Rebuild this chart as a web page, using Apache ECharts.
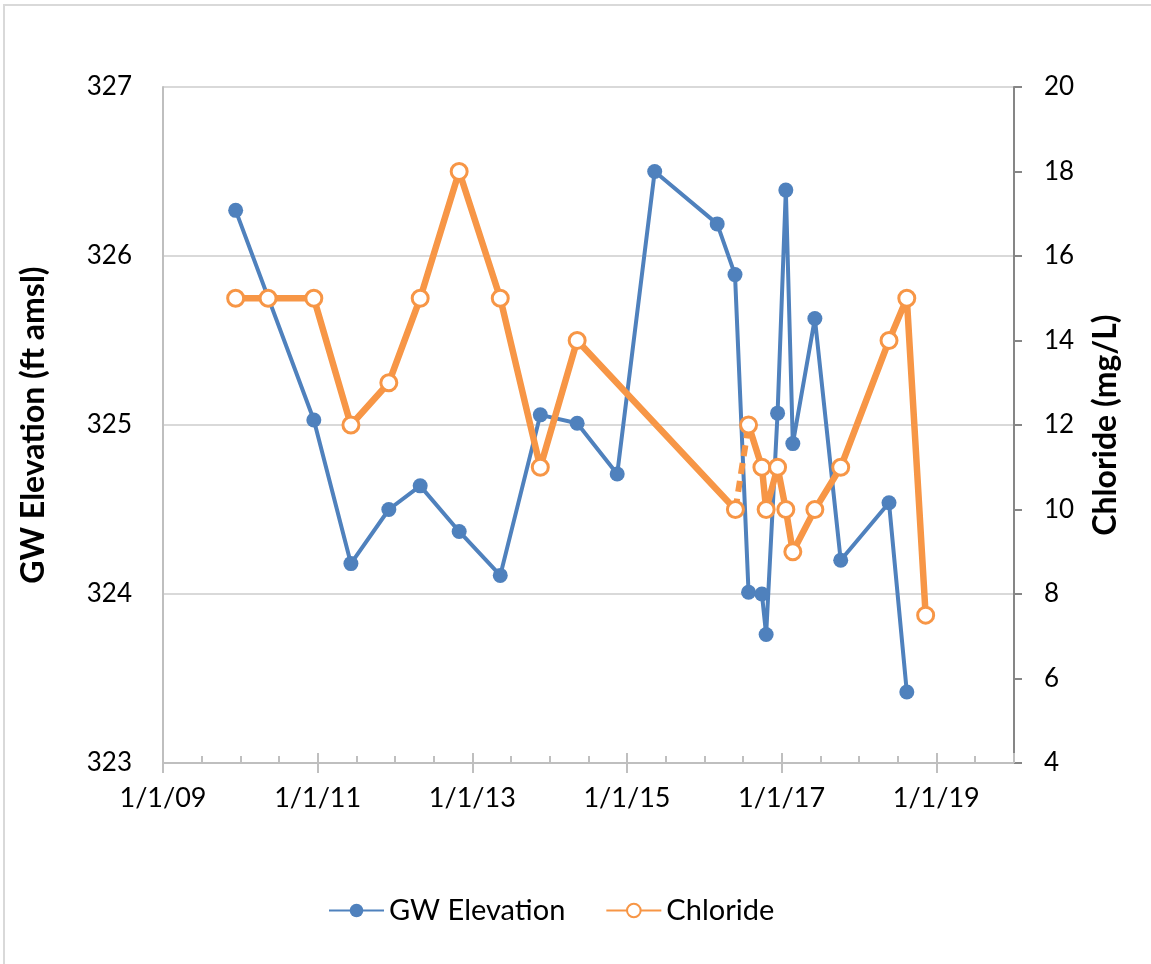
<!DOCTYPE html>
<html>
<head>
<meta charset="utf-8">
<script src="https://cdn.jsdelivr.net/npm/echarts@6/dist/echarts.min.js"></script>
<style>
  html, body { margin: 0; padding: 0; background: #fff; }
  #main { width: 1151px; height: 964px; }
</style>
</head>
<body>
<div id="main"></div>
<script>
// sample dates and readings
var gwDates = ['2009-12-10', '2010-12-14', '2011-06-07', '2011-12-03', '2012-04-29', '2012-10-30',
  '2013-05-12', '2013-11-17', '2014-05-10', '2014-11-15', '2015-05-11', '2016-03-01', '2016-05-24',
  '2016-07-27', '2016-09-28', '2016-10-18', '2016-12-11', '2017-01-19', '2017-02-21', '2017-06-05',
  '2017-10-05', '2018-05-21', '2018-08-13'];
var gwElevation = [326.27, 325.03, 324.18, 324.50, 324.64, 324.37,
  324.11, 325.06, 325.01, 324.71, 326.50, 326.19, 325.89,
  324.01, 324.00, 323.76, 325.07, 326.39, 324.89, 325.63,
  324.20, 324.54, 323.42];

var clDates = ['2009-12-10', '2010-05-12', '2010-12-14', '2011-06-07', '2011-12-03', '2012-04-29',
  '2012-10-30', '2013-05-12', '2013-11-17', '2014-05-10', '2016-05-26', '2016-07-27', '2016-09-28',
  '2016-10-18', '2016-12-11', '2017-01-19', '2017-02-21', '2017-06-05', '2017-10-05', '2018-05-21',
  '2018-08-13', '2018-11-10'];
var chloride = [15, 15, 15, 12, 13, 15,
  18, 15, 11, 14, 10, 12, 11,
  10, 11, 10, 9, 10, 11, 14,
  15, 7.5];
// segment drawn dashed: between these two chloride samples
var dashedFrom = 10;

var xTickLabels = ['1/1/09', '1/1/11', '1/1/13', '1/1/15', '1/1/17', '1/1/19'];

var startDay = Date.UTC(2009, 0, 1);
function dayNum(s) {
  var p = s.split('-');
  return Math.round((Date.UTC(+p[0], +p[1] - 1, +p[2]) - startDay) / 86400000);
}
function pairs(dates, vals, from, to) {
  var out = [];
  for (var i = from; i < to; i++) out.push([dayNum(dates[i]), vals[i]]);
  return out;
}

var blue = '#4f81bd';
var orange = '#f79646';
var axisGrey = '#bfbfbf';
var font = 'Lato, "Liberation Sans", sans-serif';
var xMax = 4017;

var myChart = echarts.init(document.getElementById('main'));

// three bottom axes on the same scale: labels + outer ticks, inner major ticks, inner minor ticks
var baseX = { type: 'value', min: 0, max: xMax, position: 'bottom', gridIndex: 0 };

var option = {
  animation: false,
  textStyle: { fontFamily: font },
  grid: { left: 163, right: 137, top: 87, bottom: 201 },
  graphic: [
    { type: 'line', shape: { x1: 3, y1: 5, x2: 1151, y2: 5 }, style: { stroke: '#d9d9d9', lineWidth: 2 } },
    { type: 'line', shape: { x1: 4, y1: 5, x2: 4, y2: 964 }, style: { stroke: '#d9d9d9', lineWidth: 2 } }
  ],
  legend: {
    data: ['GW Elevation', 'Chloride'],
    left: 323,
    top: 891,
    itemWidth: 55,
    itemHeight: 17,
    itemGap: 40,
    textStyle: { fontFamily: font, fontSize: 29, color: '#000' }
  },
  xAxis: [
    Object.assign({}, baseX, {
      interval: 730,
      axisLine: { onZero: false, lineStyle: { color: axisGrey, width: 2 } },
      axisTick: { show: true, inside: false, length: 10, lineStyle: { color: axisGrey, width: 2 } },
      axisLabel: {
        show: true, margin: 22, fontSize: 27, color: '#000', fontFamily: font,
        showMaxLabel: false,
        formatter: function (v) {
          var i = Math.round(v / 730);
          return (Math.abs(v - i * 730) < 1) ? (xTickLabels[i] || '') : '';
        }
      },
      splitLine: { show: false }
    }),
    Object.assign({}, baseX, {
      interval: 730,
      axisLine: { show: false, onZero: false },
      axisTick: { show: true, inside: true, length: 10, lineStyle: { color: axisGrey, width: 2 } },
      axisLabel: { show: false },
      splitLine: { show: false }
    }),
    Object.assign({}, baseX, {
      interval: 182.5,
      axisLine: { show: false, onZero: false },
      axisTick: { show: true, inside: true, length: 7, lineStyle: { color: axisGrey, width: 2 } },
      axisLabel: { show: false },
      splitLine: { show: false }
    })
  ],
  yAxis: [
    {
      type: 'value',
      min: 323,
      max: 327,
      interval: 1,
      position: 'left',
      name: 'GW Elevation (ft amsl)',
      nameLocation: 'middle',
      nameGap: 113,
      nameTextStyle: { fontFamily: font, fontSize: 32, fontWeight: 'bold', color: '#000' },
      axisLine: { show: true, onZero: false, lineStyle: { color: axisGrey, width: 2 } },
      axisTick: { show: false },
      minorTick: { show: false },
      axisLabel: { margin: 31, fontSize: 26, color: '#000', fontFamily: font },
      splitLine: { show: true, lineStyle: { color: '#d9d9d9', width: 2 } }
    },
    {
      type: 'value',
      min: 4,
      max: 20,
      interval: 2,
      position: 'right',
      name: 'Chloride (mg/L)',
      nameLocation: 'middle',
      nameGap: 76,
      nameTextStyle: { fontFamily: font, fontSize: 32, fontWeight: 'bold', color: '#000' },
      axisLine: { show: true, onZero: false, lineStyle: { color: '#868686', width: 2 } },
      axisTick: { show: true, inside: false, length: 8, lineStyle: { color: '#868686', width: 2 } },
      axisLabel: { margin: 30, fontSize: 26, color: '#000', fontFamily: font },
      splitLine: { show: false }
    }
  ],
  series: [
    {
      name: 'GW Elevation',
      type: 'line',
      xAxisIndex: 0,
      yAxisIndex: 0,
      data: pairs(gwDates, gwElevation, 0, gwDates.length),
      symbol: 'circle',
      symbolSize: 15,
      showAllSymbol: true,
      lineStyle: { color: blue, width: 4 },
      itemStyle: { color: blue, borderColor: blue, borderWidth: 0 }
    },
    {
      name: 'Chloride dashed',
      type: 'line',
      xAxisIndex: 0,
      yAxisIndex: 1,
      data: pairs(clDates, chloride, dashedFrom, dashedFrom + 2),
      symbol: 'none',
      lineStyle: { color: orange, width: 6, type: [11, 7], cap: 'butt' }
    },
    {
      name: 'Chloride',
      type: 'line',
      xAxisIndex: 0,
      yAxisIndex: 1,
      data: pairs(clDates, chloride, 0, dashedFrom + 1),
      symbol: 'circle',
      symbolSize: 16,
      showAllSymbol: true,
      lineStyle: { color: orange, width: 6.5 },
      itemStyle: { color: '#fff', borderColor: orange, borderWidth: 3 }
    },
    {
      name: 'Chloride',
      type: 'line',
      xAxisIndex: 0,
      yAxisIndex: 1,
      data: pairs(clDates, chloride, dashedFrom + 1, clDates.length),
      symbol: 'circle',
      symbolSize: 16,
      showAllSymbol: true,
      lineStyle: { color: orange, width: 6.5 },
      itemStyle: { color: '#fff', borderColor: orange, borderWidth: 3 }
    }
  ]
};

myChart.setOption(option);
</script>
</body>
</html>
